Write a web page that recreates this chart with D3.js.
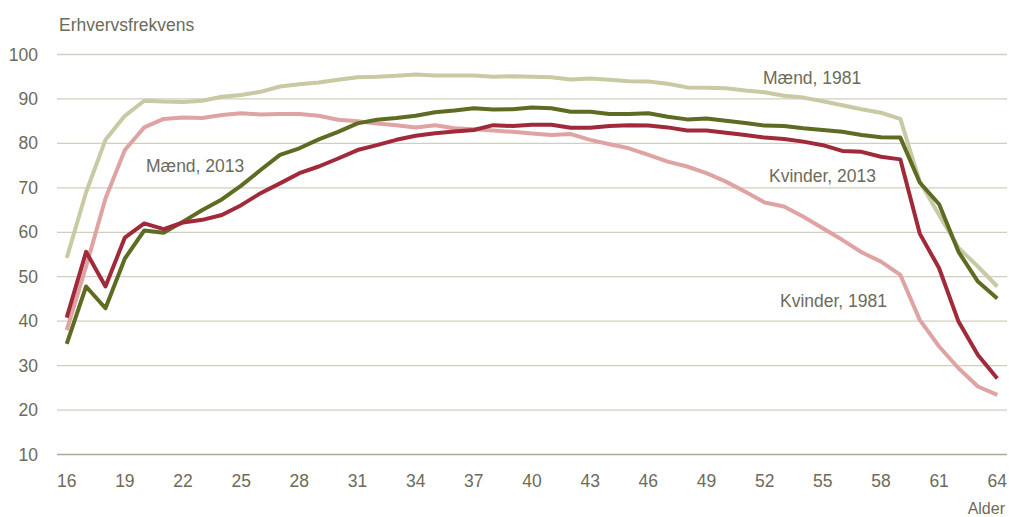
<!DOCTYPE html>
<html>
<head>
<meta charset="utf-8">
<script src="https://cdn.jsdelivr.net/npm/d3@7"></script>
<style>
  html, body { margin: 0; padding: 0; background: #fff; }
  svg text { font-family: "Liberation Sans", Arial, sans-serif; fill: #6b6b5a; }
</style>
</head>
<body>
<svg id="chart" width="1009" height="517"></svg>
<script>
const ages = d3.range(16, 65);
const xTickLabels = [16, 19, 22, 25, 28, 31, 34, 37, 40, 43, 46, 49, 52, 55, 58, 61, 64];
const yTickLabels = [10, 20, 30, 40, 50, 60, 70, 80, 90, 100];

const maend1981 = [54.2, 69.0, 80.8, 86.2, 89.6, 89.4, 89.3, 89.6, 90.5, 90.9, 91.6, 92.8, 93.3, 93.7, 94.3, 94.9, 95.0, 95.2, 95.5, 95.3, 95.3, 95.3, 95.0, 95.1, 95.0, 94.9, 94.4, 94.6, 94.3, 94.0, 93.9, 93.4, 92.6, 92.5, 92.4, 91.9, 91.5, 90.7, 90.3, 89.5, 88.6, 87.7, 86.9, 85.5, 71.4, 63.9, 56.5, 52.3, 47.8];
const maend2013 = [34.9, 47.8, 42.9, 54.1, 60.4, 59.9, 62.4, 65.0, 67.4, 70.5, 74.0, 77.4, 78.9, 80.9, 82.6, 84.5, 85.3, 85.7, 86.2, 87.0, 87.4, 87.9, 87.6, 87.7, 88.1, 87.9, 87.1, 87.1, 86.6, 86.6, 86.8, 86.0, 85.4, 85.6, 85.1, 84.6, 84.0, 83.9, 83.4, 83.0, 82.6, 81.9, 81.4, 81.3, 71.2, 66.3, 55.6, 48.9, 45.1];
const kvinder2013 = [40.8, 55.6, 47.8, 58.8, 62.0, 60.7, 62.2, 62.8, 63.9, 66.1, 68.8, 71.0, 73.3, 74.8, 76.6, 78.5, 79.6, 80.8, 81.7, 82.3, 82.7, 83.0, 84.1, 83.9, 84.2, 84.2, 83.5, 83.5, 83.9, 84.1, 84.0, 83.6, 82.9, 82.9, 82.4, 81.9, 81.3, 81.0, 80.4, 79.6, 78.3, 78.1, 77.0, 76.4, 59.7, 51.9, 39.9, 32.4, 27.1];
const kvinder1981 = [38.0, 52.3, 67.6, 78.5, 83.6, 85.5, 85.8, 85.7, 86.4, 86.8, 86.5, 86.6, 86.6, 86.2, 85.3, 85.0, 84.5, 84.1, 83.6, 84.1, 83.4, 83.2, 82.9, 82.6, 82.2, 81.9, 82.1, 80.8, 79.8, 78.9, 77.4, 75.9, 74.8, 73.3, 71.4, 69.1, 66.7, 65.8, 63.5, 60.9, 58.3, 55.5, 53.4, 50.4, 40.3, 34.3, 29.4, 25.3, 23.4];

const seriesNames = ["Mænd, 1981", "Kvinder, 1981", "Mænd, 2013", "Kvinder, 2013"];
const seriesValues = [maend1981, kvinder1981, maend2013, kvinder2013];
const seriesColors = ["#c9c9a3", "#dfa3a3", "#5e6b22", "#a02a3a"];
const labelPos = [[763, 84], [780, 307], [146, 172], [769, 182]];

const svg = d3.select("#chart");
const x = d3.scalePoint().domain(ages).range([66.7, 997.3]);
const y = d3.scaleLinear().domain([10, 100]).range([454.5, 54.5]);
const gridX0 = 57, gridX1 = 1007;

// gridlines
svg.append("g").selectAll("line").data(yTickLabels).join("line")
  .attr("x1", gridX0).attr("x2", gridX1)
  .attr("y1", d => y(d)).attr("y2", d => y(d))
  .attr("stroke", d => d === 10 ? "#a9a996" : "#cfcfc0")
  .attr("stroke-width", 1.3);

// y labels
svg.append("g").selectAll("text").data(yTickLabels).join("text")
  .attr("x", 38).attr("y", d => y(d))
  .attr("text-anchor", "end").attr("dominant-baseline", "central")
  .attr("font-size", 17.5).text(d => d);

// x labels
svg.append("g").selectAll("text").data(xTickLabels).join("text")
  .attr("x", d => x(d)).attr("y", 481)
  .attr("text-anchor", "middle").attr("dominant-baseline", "central")
  .attr("font-size", 17.5).text(d => d);

svg.append("text").attr("x", 1005).attr("y", 508)
  .attr("text-anchor", "end").attr("dominant-baseline", "central")
  .attr("font-size", 16).text("Alder");

svg.append("text").attr("x", 59).attr("y", 31)
  .attr("font-size", 17.5).text("Erhvervsfrekvens");

const line = d3.line().x((d, i) => x(ages[i])).y(d => y(d));

seriesValues.forEach((vals, k) => {
  svg.append("path").datum(vals)
    .attr("d", line)
    .attr("fill", "none")
    .attr("stroke", seriesColors[k])
    .attr("stroke-width", 4)
    .attr("stroke-linejoin", "round");
});

seriesNames.forEach((n, k) => {
  svg.append("text").attr("x", labelPos[k][0]).attr("y", labelPos[k][1])
    .attr("font-size", 17.5).text(n);
});
</script>
</body>
</html>
